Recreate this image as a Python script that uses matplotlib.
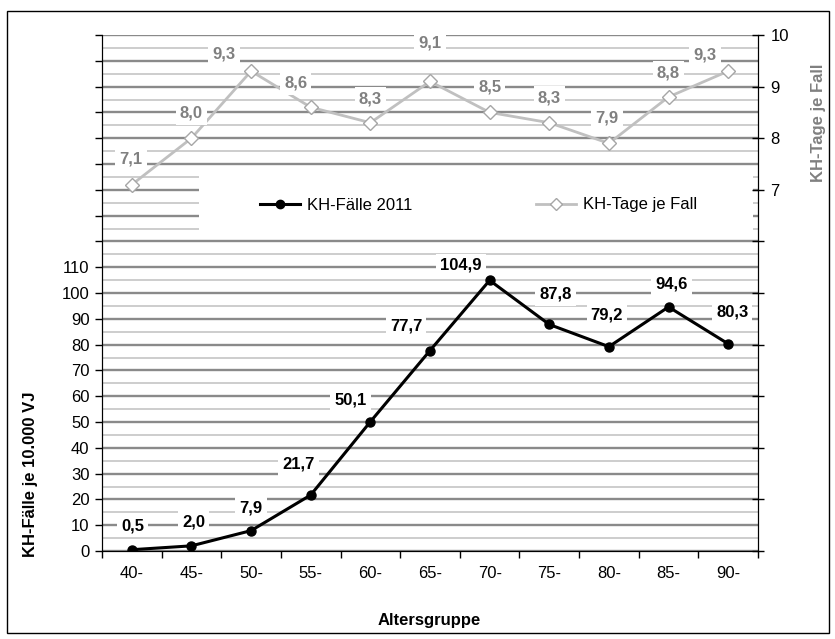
import matplotlib.pyplot as plt
from matplotlib.patches import Rectangle
from matplotlib.ticker import MultipleLocator, FuncFormatter
from matplotlib.lines import Line2D
import numpy as np

plt.rcParams['font.family'] = ['Liberation Sans', 'DejaVu Sans']

altersgruppen = ['40-', '45-', '50-', '55-', '60-', '65-', '70-', '75-', '80-', '85-', '90-']
kh_faelle = [0.5, 2.0, 7.9, 21.7, 50.1, 77.7, 104.9, 87.8, 79.2, 94.6, 80.3]
kh_tage = [7.1, 8.0, 9.3, 8.6, 8.3, 9.1, 8.5, 8.3, 7.9, 8.8, 9.3]

# label nudges (pixels) so the boxes sit like in the original
faelle_offsets = [(1, 24), (2, 24), (0, 23), (-12, 31), (-20, 22), (-24, 25),
                  (-29, 15), (6, 30), (-2, 32), (3, 23), (4, 32)]
tage_offsets = [(-1, 26), (0, 25), (-27, 17), (-15, 24), (0, 24), (0, 38),
                (0, 25), (0, 25), (-2, 25), (0, 24), (-23, 16)]

FS = 12
W, H = 835, 639
fig = plt.figure(figsize=(W / 100, H / 100), dpi=100)
ax = fig.add_axes([102 / W, (H - 551) / H, 656 / W, 516 / H])
ax2 = ax.twinx()

x = np.arange(len(altersgruppen)) + 0.5

# left axis 0..200, labels only up to 110
ax.set_xlim(0, len(altersgruppen))
ax.set_ylim(0, 200)
ax.yaxis.set_major_locator(MultipleLocator(10))
ax.yaxis.set_minor_locator(MultipleLocator(5))
ax.yaxis.set_major_formatter(FuncFormatter(lambda v, p: '%d' % v if v <= 110 else ''))
ax.tick_params(axis='y', which='major', length=5, width=1, pad=4, labelsize=FS)
ax.tick_params(axis='y', which='minor', length=0)
ax.set_axisbelow(True)
ax.grid(which='major', axis='y', color='#8a8a8a', lw=1.7)
ax.grid(which='minor', axis='y', color='#c0c0c0', lw=1.1)

ax.set_xticks(np.arange(len(altersgruppen) + 1))
ax.set_xticklabels([])
ax.set_xticks(x, minor=True)
ax.set_xticklabels(altersgruppen, minor=True)
ax.tick_params(axis='x', which='major', length=5, width=1)
ax.tick_params(axis='x', which='minor', length=0, pad=11, labelsize=FS)

ax.spines['top'].set_visible(False)
ax2.spines['top'].set_visible(False)

# white legend area
ax.add_patch(Rectangle((1.63, 121), 9.29, 28, facecolor='white', edgecolor='none', zorder=1.5))

ax.plot(x, kh_faelle, color='black', lw=2.2, marker='o', ms=6.5, zorder=3)
for xi, v, (dx, dy) in zip(x, kh_faelle, faelle_offsets):
    ax.annotate(('%.1f' % v).replace('.', ','), (xi, v), xytext=(dx, dy),
                textcoords='offset pixels', ha='center', va='center',
                fontsize=FS, fontweight='bold', color='black', zorder=4,
                bbox=dict(boxstyle='square,pad=0.25', fc='white', ec='none'))

# right axis 0..10, labels 7..10
ax2.set_ylim(0, 10)
ax2.yaxis.set_major_locator(MultipleLocator(1))
ax2.yaxis.set_major_formatter(FuncFormatter(lambda v, p: '%d' % v if v >= 7 else ''))
ax2.tick_params(axis='y', direction='inout', length=8, width=1, pad=5, labelsize=FS)
ax2.plot(x, kh_tage, color='#c0c0c0', lw=2.0, marker='D', ms=7.5,
         mfc='white', mec='#a6a6a6', mew=1.0, zorder=3)
for xi, v, (dx, dy) in zip(x, kh_tage, tage_offsets):
    ax2.annotate(('%.1f' % v).replace('.', ','), (xi, v), xytext=(dx, dy),
                 textcoords='offset pixels', ha='center', va='center',
                 fontsize=FS, fontweight='bold', color='#808080', zorder=4,
                 bbox=dict(boxstyle='square,pad=0.25', fc='white', ec='none'))

handles = [Line2D([], [], color='black', lw=2.2, marker='o', ms=6),
           Line2D([], [], color='#c0c0c0', lw=2.0, marker='D', ms=6.5,
                  mfc='white', mec='#a6a6a6', mew=1.0)]
ax2.legend(handles, ['KH-Fälle 2011', 'KH-Tage je Fall'], ncol=2, frameon=False,
           loc='center left', bbox_to_anchor=(260 / W, (H - 205) / H),
           bbox_transform=fig.transFigure, fontsize=FS, handlelength=2.4,
           handletextpad=0.42, columnspacing=7.4, borderpad=0, borderaxespad=0)

fig.text(31 / W, (H - 474) / H, 'KH-Fälle je 10.000 VJ', rotation=90,
         ha='center', va='center', fontsize=FS, fontweight='bold')
fig.text(818 / W, (H - 123) / H, 'KH-Tage je Fall', rotation=90,
         ha='center', va='center', fontsize=FS, fontweight='bold', color='#808080')
fig.text(429 / W, (H - 620) / H, 'Altersgruppe', ha='center', va='center',
         fontsize=FS, fontweight='bold')

fig.patches.append(Rectangle((6.5 / W, (H - 633) / H), 822 / W, 622 / H,
                             transform=fig.transFigure, fill=False,
                             edgecolor='black', lw=1))

fig.savefig('out.png', dpi=100)
